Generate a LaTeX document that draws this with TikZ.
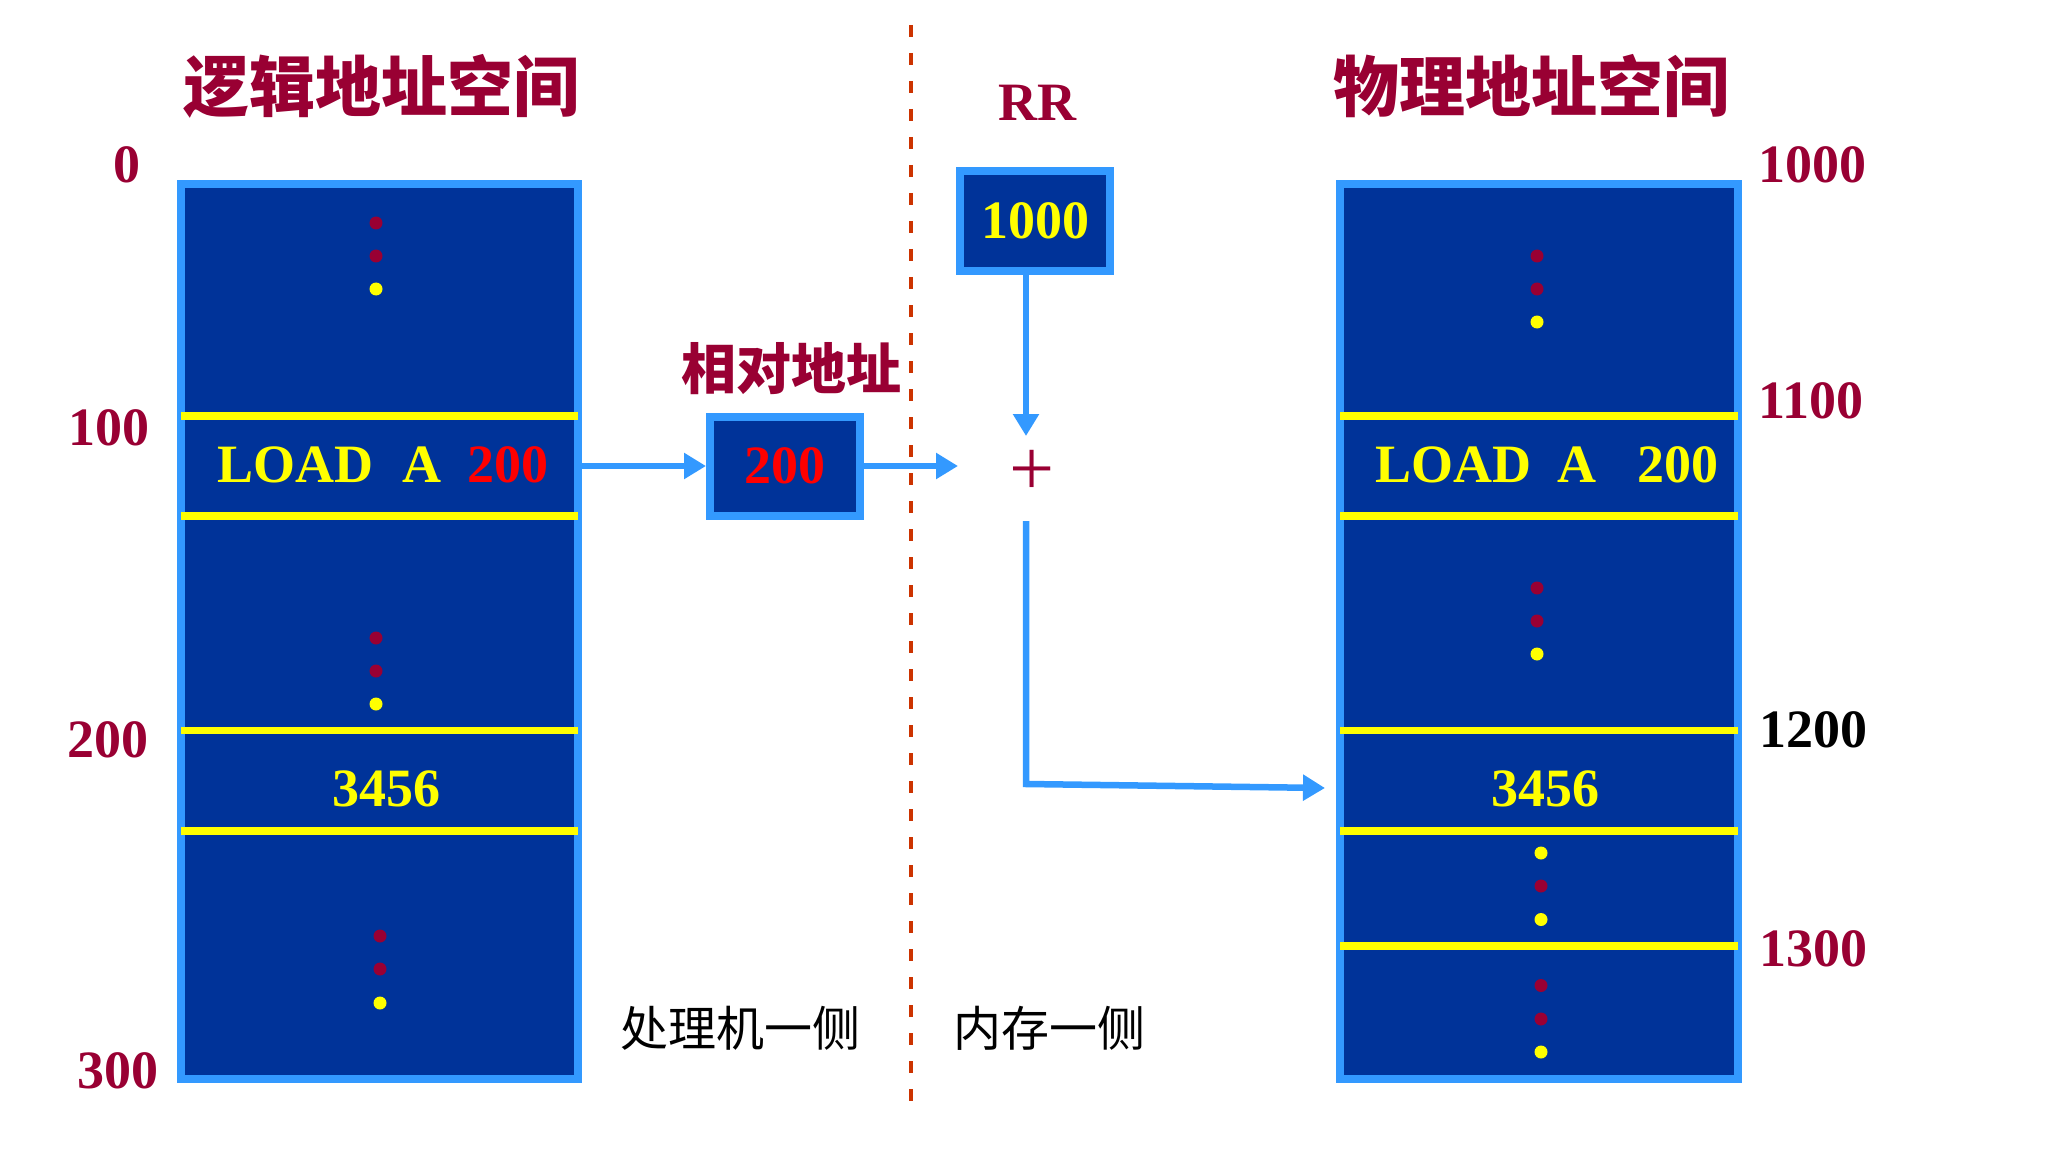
\documentclass[tikz,border=0pt]{standalone}
\usepackage{fontspec}
\setmainfont{Liberation Serif}
\newfontfamily\cjk{Noto Sans CJK SC}
\usetikzlibrary{arrows.meta}
\definecolor{navy}{RGB}{0,51,153}
\definecolor{lblue}{RGB}{51,153,255}
\definecolor{dred}{RGB}{153,0,51}
\definecolor{yel}{RGB}{255,255,0}
\definecolor{dashc}{RGB}{204,51,0}
\tikzset{
  mem/.style={draw=lblue, fill=navy, line width=8pt, inner sep=0pt},
  regbox/.style={draw=lblue, fill=navy, line width=8pt, inner sep=0pt, minimum width=150pt, minimum height=99pt},
  sepline/.style={draw=yel, line width=7.5pt},
  num/.style={font=\fontsize{54}{54}\selectfont\bfseries, inner sep=0pt},
  title/.style={font=\cjk\bfseries\fontsize{66}{66}\selectfont, text=dred, inner sep=0pt},
  subtitle/.style={font=\cjk\bfseries\fontsize{55}{55}\selectfont, text=dred, inner sep=0pt},
  side/.style={font=\cjk\fontsize{48}{48}\selectfont, text=black, inner sep=0pt},
  conn/.style={draw=lblue, line width=6.5pt, -{Triangle[length=22pt,width=25pt]}},
  dotr/.style={fill=dred},
  doty/.style={fill=yel}
}
\begin{document}
\begin{tikzpicture}[x=1pt,y=-1pt]
\useasboundingbox (0,0) rectangle (2065,1161);
% separator
\draw[dashc, line width=3.5pt, dash pattern=on 12pt off 16pt] (911,25) -- (911,1102);
% titles
\node[title] (ltitle) at (381,86) {逻辑地址空间};
\node[title] (rtitle) at (1531,86) {物理地址空间};
\node[subtitle] (reltitle) at (791,369) {相对地址};
\node[num, text=dred] (rrlabel) at (1037,103) {RR};
% memory boxes
\node[mem, minimum width=397pt, minimum height=895pt] (lmem) at (379.5,631.5) {};
\node[mem, minimum width=398pt, minimum height=895pt] (rmem) at (1539,631.5) {};
% separators inside boxes
\foreach \yy in {416,516,730.5,831} \draw[sepline] (181,\yy) -- (578,\yy);
\foreach \yy in {416,516,730.5,831,946} \draw[sepline] (1340,\yy) -- (1738,\yy);
% dots
\foreach \xx/\yy/\cc in {376/223/dred,376/256/dred,376/289/yel,
  376/638/dred,376/671/dred,376/704/yel,
  380/936/dred,380/969/dred,380/1003/yel,
  1537/256/dred,1537/289/dred,1537/322/yel,
  1537/588/dred,1537/621/dred,1537/654/yel,
  1541/853/yel,1541/886/dred,1541/919.5/yel,
  1541/985.5/dred,1541/1019/dred,1541/1052/yel}
  \fill[\cc] (\xx,\yy) circle (6.5pt);
% contents
\node[num, anchor=base west] (lload) at (217,482) {\textcolor{yel}{LOAD\hspace{29pt}A}\hspace{26pt}\textcolor{red}{200}};
\node[num, anchor=base west, text=yel] (rload) at (1375,482) {LOAD\hspace{26pt}A\hspace{41pt}200};
\node[num, text=yel] (ldata) at (386,788.5) {3456};
\node[num, text=yel] (rdata) at (1545.5,788.5) {3456};
% registers
\node[regbox, text=red, font=\fontsize{54}{54}\selectfont\bfseries] (rel) at (785,466) {200};
\node[regbox, text=yel, font=\fontsize{54}{54}\selectfont\bfseries, minimum height=100pt] (rr) at (1035,221) {1000};
% address labels
\node[num, text=dred] (a0) at (127,164.5) {0};
\node[num, text=dred] (a100) at (109,427.5) {100};
\node[num, text=dred] (a200) at (107.5,739.5) {200};
\node[num, text=dred] (a300) at (117.5,1071) {300};
\node[num, text=dred] (p1000) at (1812,165) {1000};
\node[num, text=dred] (p1100) at (1810.5,401) {1100};
\node[num, text=black] (p1200) at (1813.5,729.5) {1200};
\node[num, text=dred] (p1300) at (1813.5,948.5) {1300};
% plus
\node[font=\fontsize{80}{80}\selectfont, text=dred, inner sep=0pt] (plus) at (1032,473) {+};
\coordinate (pw) at (958,466);
\coordinate (pn) at (1026,436);
\coordinate (ps) at (1026,521);
\coordinate (corner) at (1026,784);
\coordinate (tgt) at (1325,788);
% side labels
\node[side] (pside) at (740,1028) {处理机一侧};
\node[side] (mside) at (1049.5,1028) {内存一侧};
% connectors
\draw[conn] (lmem.east |- rel.west) -- (rel.west);
\draw[conn] (rel.east) -- (pw);
\draw[conn] (rr.south -| pn) -- (pn);
\draw[conn] (ps) -- (corner) -- (tgt);
\end{tikzpicture}
\end{document}
